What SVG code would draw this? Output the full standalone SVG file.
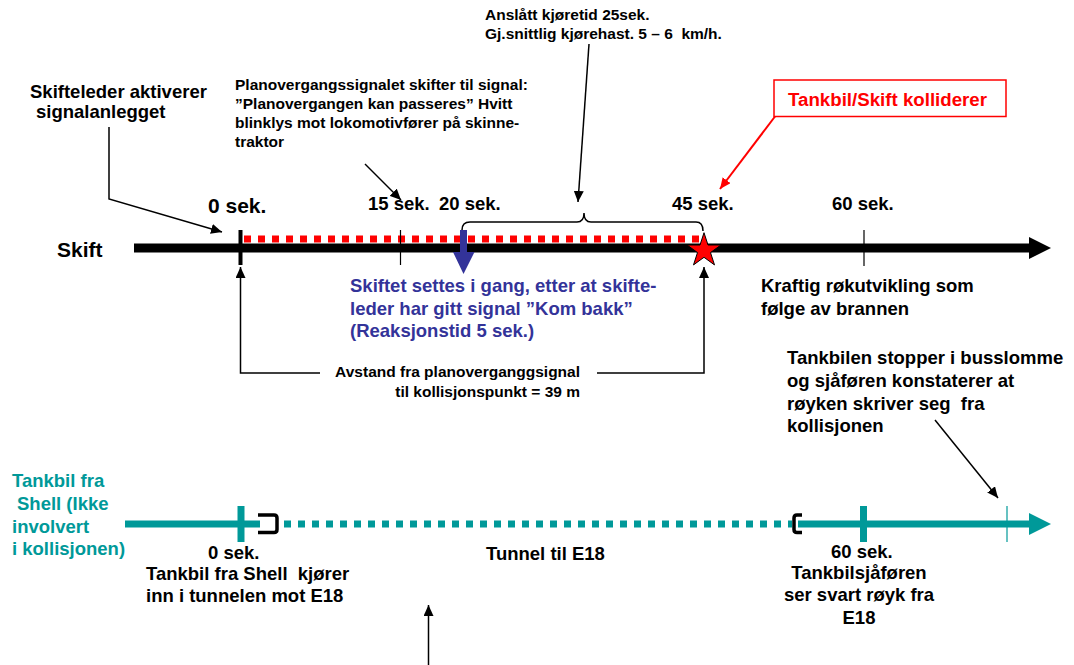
<svg xmlns="http://www.w3.org/2000/svg" width="1074" height="665" viewBox="0 0 1074 665">
<style>
text{font-family:"Liberation Sans",Arial,sans-serif;font-weight:bold;fill:#000;white-space:pre}
.s{font-size:15.5px}
.m{font-size:18.5px}
.l{font-size:21px}
.blue{fill:#333399}
.teal{fill:#009999}
.red{fill:#FF0000}
.ln{fill:none;stroke:#000;stroke-width:1.5}
.rl{fill:none;stroke:#FF0000;stroke-width:2}
</style>
<defs>
<marker id="ah" markerUnits="userSpaceOnUse" markerWidth="12" markerHeight="10" refX="11" refY="5" orient="auto"><path d="M0,0 L11,5 L0,10 z" fill="#000"/></marker>
<marker id="ahr" markerUnits="userSpaceOnUse" markerWidth="12" markerHeight="10" refX="11" refY="5" orient="auto"><path d="M0,0 L11,5 L0,10 z" fill="#FF0000"/></marker>
</defs>
<rect width="1074" height="665" fill="#fff"/>

<g id="skift-timeline">
<line x1="134" y1="248" x2="1032" y2="248" stroke="#000" stroke-width="9"/>
<polygon points="1029,237 1051,248 1029,259" fill="#000"/>
<line x1="244" y1="239" x2="702" y2="239" stroke="#FF0000" stroke-width="7" stroke-dasharray="7 7"/>
<line x1="240.5" y1="230" x2="240.5" y2="265" stroke="#000" stroke-width="4"/>
<line x1="400.5" y1="230" x2="400.5" y2="265" stroke="#000" stroke-width="1.2"/>
<line x1="864" y1="230" x2="864" y2="266" stroke="#000" stroke-width="1.2"/>
<text x="57" y="257" class="l">Skift</text>
<text x="208" y="213" class="l">0 sek.</text>
<text x="368" y="210" class="m">15 sek.</text>
<text x="439" y="210" class="m">20 sek.</text>
<text x="672" y="210" class="m">45 sek.</text>
<text x="832" y="210" class="m">60 sek.</text>
</g>

<g id="brace">
<path d="M462,230 Q462,222 470,222 L577,222 Q584,222 584,213 Q584,222 591,222 L696,222 Q703,222 703,231" class="ln" stroke-width="1.2"/>
</g>

<g id="blue-arrow">
<path d="M460,230 H467 V252 H474.5 L463.5,274 L453,252 H460 Z" fill="#333399"/>
</g>

<g id="star">
<polygon points="704,232.7 708,245 720.9,245 710.5,252.6 714.5,264.9 704,257.3 693.5,264.9 697.5,252.6 687.1,245 700,245" fill="#FF0000" stroke="#000" stroke-width="1"/>
</g>

<g id="node-skifteleder">
<text x="30" y="98" class="m">Skifteleder aktiverer</text>
<text x="36" y="118" class="m">signalanlegget</text>
</g>

<g id="node-planovergang">
<text x="235" y="90" class="s">Planovergangssignalet skifter til signal:</text>
<text x="235" y="109" class="s">”Planovergangen kan passeres” Hvitt</text>
<text x="235" y="128" class="s">blinklys mot lokomotivfører på skinne-</text>
<text x="235" y="147" class="s">traktor</text>
</g>

<g id="node-anslatt">
<text x="485" y="20" class="s">Anslått kjøretid 25sek.</text>
<text x="485" y="39" class="s">Gj.snittlig kjørehast. 5 – 6  km/h.</text>
</g>

<g id="node-kollisjon">
<rect x="774" y="80" width="232" height="36.5" fill="#fff" stroke="#FF0000" stroke-width="1.5"/>
<text x="788" y="105.5" class="red" font-size="18.7">Tankbil/Skift kolliderer</text>
</g>

<g id="node-skiftet">
<text x="350" y="292" class="m blue">Skiftet settes i gang, etter at skifte-</text>
<text x="350" y="314.5" class="m blue">leder har gitt signal ”Kom bakk”</text>
<text x="350" y="337" class="m blue">(Reaksjonstid 5 sek.)</text>
</g>

<g id="node-kraftig">
<text x="761" y="292" class="m">Kraftig røkutvikling som</text>
<text x="761" y="314.5" class="m">følge av brannen</text>
</g>

<g id="node-avstand">
<text x="580" y="377" class="s" text-anchor="end">Avstand fra planoverganggsignal</text>
<text x="580" y="397" class="s" text-anchor="end">til kollisjonspunkt = 39 m</text>
</g>

<g id="node-tankbilen-stopper">
<text x="787" y="364" class="m">Tankbilen stopper i busslomme</text>
<text x="787" y="387" class="m">og sjåføren konstaterer at</text>
<text x="787" y="410" class="m">røyken skriver seg  fra</text>
<text x="787" y="432" class="m">kollisjonen</text>
</g>

<g id="tankbil-timeline">
<line x1="125" y1="524" x2="260" y2="524" stroke="#009999" stroke-width="7"/>
<line x1="284" y1="524" x2="792" y2="524" stroke="#009999" stroke-width="7" stroke-dasharray="7 7"/>
<line x1="798" y1="524" x2="1032" y2="524" stroke="#009999" stroke-width="7"/>
<polygon points="1029,513 1051,524 1029,535" fill="#009999"/>
<line x1="241" y1="506" x2="241" y2="542" stroke="#009999" stroke-width="7"/>
<line x1="863.5" y1="506" x2="863.5" y2="542" stroke="#009999" stroke-width="7"/>
<line x1="1007" y1="506" x2="1007" y2="542" stroke="#009999" stroke-width="1.2"/>
<path d="M258,515 H274 Q277,515 277,518 V529.5 Q277,532.5 274,532.5 H258" fill="none" stroke="#000" stroke-width="3.5"/>
<path d="M802,515 H797 Q794,515 794,518 V529.5 Q794,532.5 797,532.5 H802" fill="none" stroke="#000" stroke-width="3.5"/>
</g>

<g id="node-tankbil-shell">
<text x="12" y="487" class="m teal">Tankbil fra</text>
<text x="17" y="510" class="m teal">Shell (Ikke</text>
<text x="12" y="532.5" class="m teal">involvert</text>
<text x="12" y="555" class="m teal">i kollisjonen)</text>
</g>

<g id="node-tunnel">
<text x="208" y="559" class="m">0 sek.</text>
<text x="146" y="580" class="m">Tankbil fra Shell  kjører</text>
<text x="146" y="602" class="m">inn i tunnelen mot E18</text>
<text x="486" y="560" class="m">Tunnel til E18</text>
</g>

<g id="node-tankbilsjaforen">
<text x="831" y="558" class="m">60 sek.</text>
<text x="859" y="579" class="m" text-anchor="middle">Tankbilsjåføren</text>
<text x="859" y="601" class="m" text-anchor="middle">ser svart røyk fra</text>
<text x="859" y="623.5" class="m" text-anchor="middle">E18</text>
</g>

<g id="connectors">
<polyline points="109,127 109,199 222,232" class="ln" marker-end="url(#ah)"/>
<line x1="365" y1="164" x2="401" y2="200" class="ln" marker-end="url(#ah)"/>
<line x1="589" y1="44" x2="578" y2="202" class="ln" marker-end="url(#ah)"/>
<line x1="775" y1="116.5" x2="720" y2="189" class="rl" marker-end="url(#ahr)"/>
<polyline points="320,373 240.5,373 240.5,267" class="ln" marker-end="url(#ah)"/>
<polyline points="597,373 704,373 704,267" class="ln" marker-end="url(#ah)"/>
<line x1="935" y1="420" x2="998" y2="498" class="ln" marker-end="url(#ah)"/>
<line x1="428.5" y1="665" x2="428.5" y2="605" class="ln" marker-end="url(#ah)"/>
</g>
</svg>
